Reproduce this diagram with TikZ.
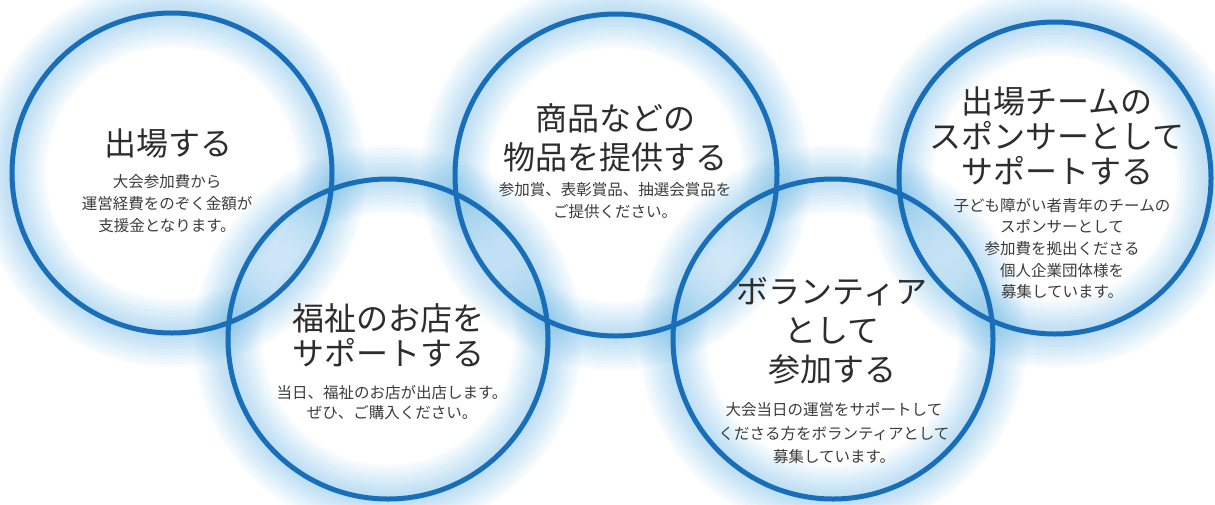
\documentclass[tikz,border=0pt]{standalone}
\usepackage{fontspec}
\setmainfont{Noto Sans CJK JP}
\definecolor{ringc}{RGB}{24,110,184}
\definecolor{glowc}{RGB}{95,182,234}
\definecolor{titlec}{RGB}{45,45,45}
\definecolor{subc}{RGB}{60,60,60}
\begin{document}
\begin{tikzpicture}[x=1pt,y=-1pt,
  ring/.style={draw=ringc,line width=5pt},
  glow/.style={draw=glowc,opacity=0.042},
  ttl/.style={text=titlec,align=center,inner sep=0pt,font=\fontsize{32}{36}\selectfont},
  ttlwide/.style={ttl,font=\fontsize{32}{39}\selectfont},
  sub/.style={text=subc,align=center,inner sep=0pt,font=\fontsize{15.5}{22}\selectfont}]
\useasboundingbox (0,0) rectangle (1215,504);
\fill[white] (0,0) rectangle (1215,504);
\coordinate (c1) at (172,173);
\coordinate (c2) at (388,339);
\coordinate (c3) at (616,175);
\coordinate (c4) at (833,339);
\coordinate (c5) at (1055,178);
% glow
\foreach \w in {68,62,...,8}{
  \foreach \c/\r in {c1/160,c2/160,c3/161,c4/160,c5/156}{
    \draw[glow,line width=\w pt] (\c) circle (\r pt);
  }
}
% rings
\foreach \c/\r in {c1/160,c2/160,c3/161,c4/160,c5/156}{
  \draw[ring] (\c) circle (\r pt);
}
% texts
\node[ttl] (t1) at (168,143) {出場する};
\node[sub] (s1) at (167,204) {大会参加費から\\運営経費をのぞく金額が\\支援金となります。};
\node[ttl,font=\fontsize{32}{35}\selectfont] (t2) at (388,335.5) {福祉のお店を\\サポートする};
\node[sub,font=\fontsize{15.5}{20}\selectfont] (s2) at (392,403) {当日、福祉のお店が出店します。\\ぜひ、ご購入ください。};
\node[ttlwide] (t3) at (615,137.5) {商品などの\\物品を提供する};
\node[sub] (s3) at (615,201) {参加賞、表彰賞品、抽選会賞品を\\ご提供ください。};
\node[ttlwide] (t4) at (832,331) {ボランティア\\として\\参加する};
\node[sub,font=\fontsize{15.5}{23.5}\selectfont] (s4) at (834,433.5) {大会当日の運営をサポートして\\くださる方をボランティアとして\\募集しています。};
\node[ttl,font=\fontsize{32}{35}\selectfont] (t5) at (1057,135.5) {出場チームの\\スポンサーとして\\サポートする};
\node[sub,font=\fontsize{15.5}{21.7}\selectfont] (s5) at (1062,248.5) {子ども障がい者青年のチームの\\スポンサーとして\\参加費を拠出くださる\\個人企業団体様を\\募集しています。};
\end{tikzpicture}
\end{document}
